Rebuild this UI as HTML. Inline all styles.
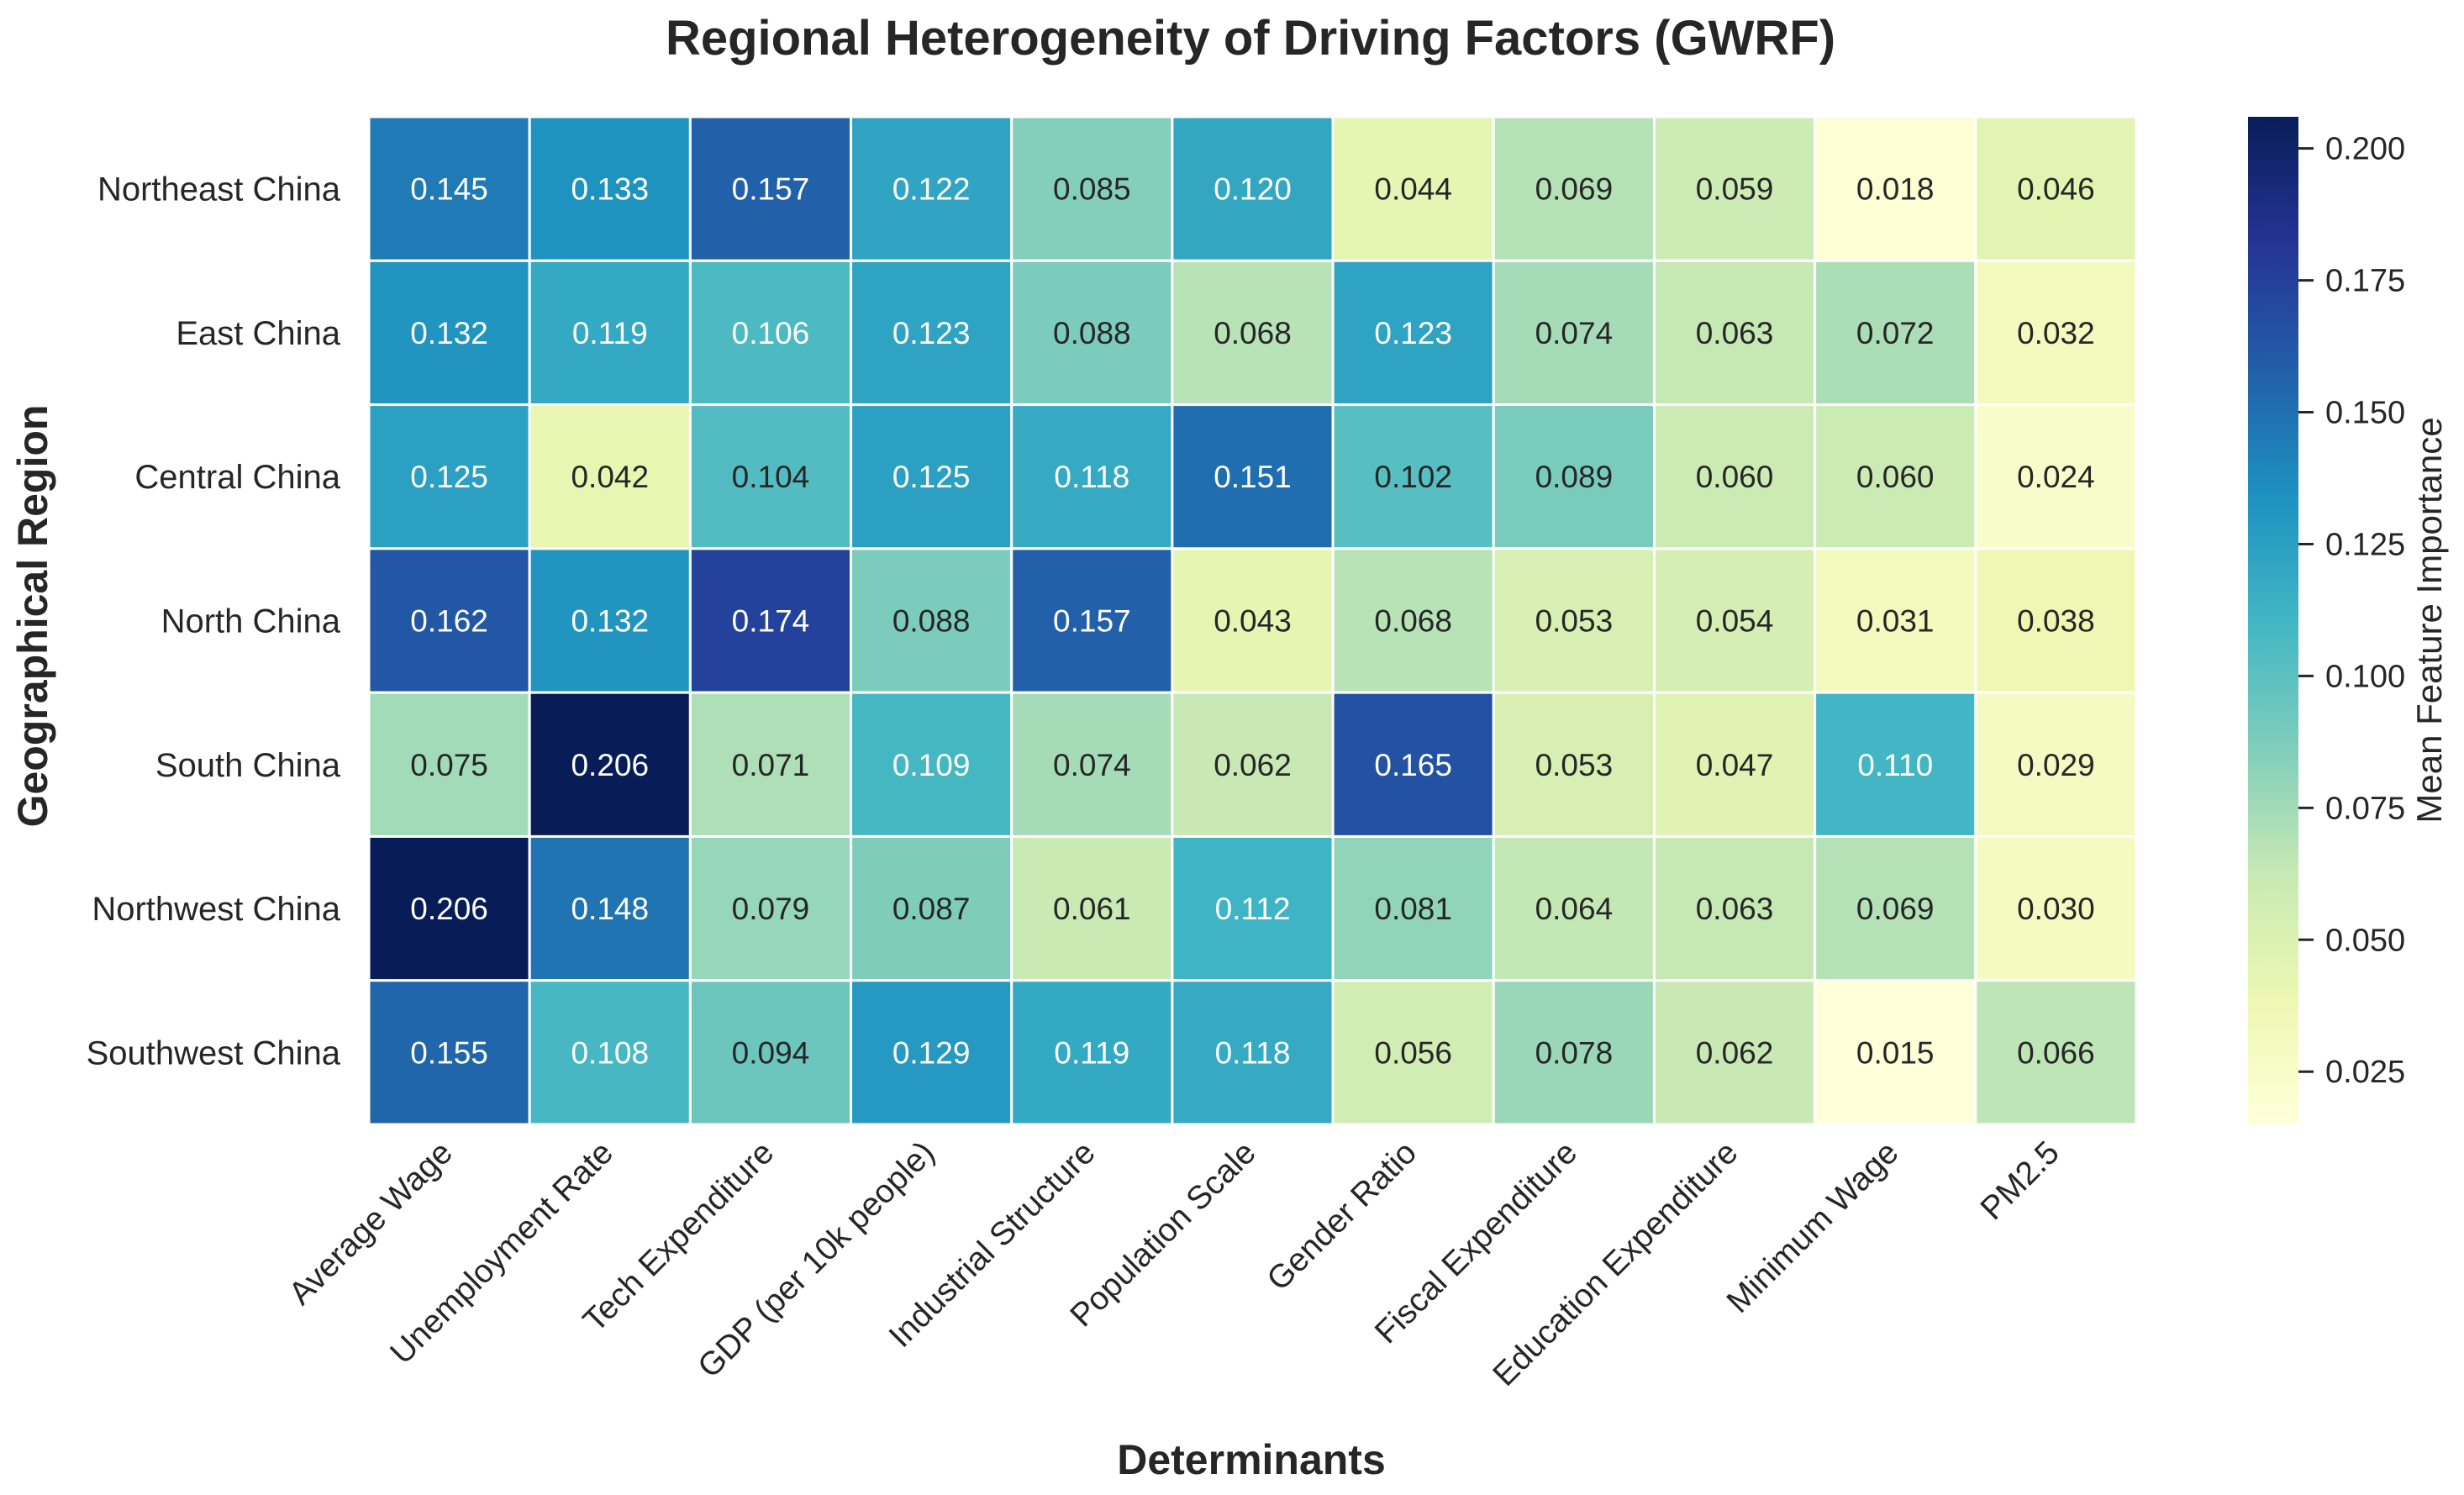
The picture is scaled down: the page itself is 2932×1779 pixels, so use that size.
<!DOCTYPE html>
<html><head><meta charset="utf-8"><style>
html,body{margin:0;padding:0;background:#fff;}
svg{display:block;font-family:"Liberation Sans",Arial,sans-serif;}
</style></head><body>
<svg id="chart" width="2932" height="1779" viewBox="0 0 2932 1779" xmlns="http://www.w3.org/2000/svg">
<text x="1488" y="65" text-anchor="middle" font-size="58" font-weight="bold" fill="#262626">Regional Heterogeneity of Driving Factors (GWRF)</text>
<g id="cells"></g>
<g id="ylabels"></g>
<g id="xlabels"></g>
<text x="1489" y="1754" text-anchor="middle" font-size="50" font-weight="bold" fill="#262626">Determinants</text>
<text transform="translate(56,733) rotate(-90)" text-anchor="middle" font-size="50" font-weight="bold" fill="#262626">Geographical Region</text>
<defs><linearGradient id="cbgrad" x1="0" y1="1" x2="0" y2="0"></linearGradient></defs>
<rect x="2675" y="139" width="60" height="1199" fill="url(#cbgrad)"/>
<g id="cbticks"></g>
<text transform="translate(2905,738) rotate(-90)" text-anchor="middle" font-size="42" fill="#262626">Mean Feature Importance</text>
</svg>
<script>
const regions = ["Northeast China","East China","Central China","North China","South China","Northwest China","Southwest China"];
const determinants = ["Average Wage","Unemployment Rate","Tech Expenditure","GDP (per 10k people)","Industrial Structure","Population Scale","Gender Ratio","Fiscal Expenditure","Education Expenditure","Minimum Wage","PM2.5"];
const rowNortheast = [0.145,0.133,0.157,0.122,0.085,0.120,0.044,0.069,0.059,0.018,0.046];
const rowEast      = [0.132,0.119,0.106,0.123,0.088,0.068,0.123,0.074,0.063,0.072,0.032];
const rowCentral   = [0.125,0.042,0.104,0.125,0.118,0.151,0.102,0.089,0.060,0.060,0.024];
const rowNorth     = [0.162,0.132,0.174,0.088,0.157,0.043,0.068,0.053,0.054,0.031,0.038];
const rowSouth     = [0.075,0.206,0.071,0.109,0.074,0.062,0.165,0.053,0.047,0.110,0.029];
const rowNorthwest = [0.206,0.148,0.079,0.087,0.061,0.112,0.081,0.064,0.063,0.069,0.030];
const rowSouthwest = [0.155,0.108,0.094,0.129,0.119,0.118,0.056,0.078,0.062,0.015,0.066];
const cbTicks = [0.025,0.050,0.075,0.100,0.125,0.150,0.175,0.200];

const values = [rowNortheast,rowEast,rowCentral,rowNorth,rowSouth,rowNorthwest,rowSouthwest];
const NS="http://www.w3.org/2000/svg";
const L=439,T=139,R=2542,B=1338;
const flat=values.flat();
const vmin=Math.min(...flat), vmax=Math.max(...flat);
const cw=(R-L)/determinants.length, ch=(B-T)/regions.length;
const xPos=i=>L+i*cw, yPos=j=>T+j*ch;
const stops=["#ffffd9","#edf8b1","#c7e9b4","#7fcdbb","#41b6c4","#1d91c0","#225ea8","#253494","#081d58"].map(h=>[1,3,5].map(k=>parseInt(h.substr(k,2),16)));
function cmap(v){let t=(v-vmin)/(vmax-vmin);t=Math.max(0,Math.min(1,t));const p=t*(stops.length-1);const i=Math.min(Math.floor(p),stops.length-2);const f=p-i;return stops[i].map((c,k)=>Math.round(c+(stops[i+1][k]-c)*f));}
function lum(c){const l=c.map(x=>{x/=255;return x<=0.03928?x/12.92:Math.pow((x+0.055)/1.055,2.4)});return 0.2126*l[0]+0.7152*l[1]+0.0722*l[2];}
const cells=document.getElementById('cells');
values.forEach((row,j)=>row.forEach((v,i)=>{
 const c=cmap(v);
 const r=document.createElementNS(NS,'rect');
 r.setAttribute('x',xPos(i));r.setAttribute('y',yPos(j));r.setAttribute('width',cw);r.setAttribute('height',ch);
 r.setAttribute('fill',`rgb(${c})`);r.setAttribute('stroke','#fff');r.setAttribute('stroke-width','3');
 
 
 cells.appendChild(r);
 const t=document.createElementNS(NS,'text');
 t.setAttribute('x',xPos(i)+cw/2);t.setAttribute('y',yPos(j)+ch/2+13);t.setAttribute('text-anchor','middle');
 t.setAttribute('font-size','37');t.setAttribute('fill',lum(c)<0.408?'#ffffff':'#262626');
 t.textContent=v.toFixed(3);
 
 
 cells.appendChild(t);
}));
const yl=document.getElementById('ylabels');
regions.forEach((n,j)=>{const t=document.createElementNS(NS,'text');
 t.setAttribute('x',405);t.setAttribute('y',yPos(j)+ch/2+14);t.setAttribute('text-anchor','end');t.setAttribute('font-size','40');t.setAttribute('fill','#262626');t.textContent=n;
 
 
 yl.appendChild(t);});
const xl=document.getElementById('xlabels');
determinants.forEach((n,i)=>{const t=document.createElementNS(NS,'text');
 const cx=xPos(i)+cw/2+6, cy=B+36;
 t.setAttribute('transform',`translate(${cx},${cy}) rotate(-45)`);t.setAttribute('text-anchor','end');t.setAttribute('font-size','39');t.setAttribute('fill','#262626');t.textContent=n;
 
 
 xl.appendChild(t);});
const g=document.getElementById('cbgrad');
for(let k=0;k<=40;k++){const v=vmin+(vmax-vmin)*k/40;const s=document.createElementNS(NS,'stop');s.setAttribute('offset',k/40);s.setAttribute('stop-color',`rgb(${cmap(v)})`);g.appendChild(s);}
const cbY=v=>B-(v-vmin)/(vmax-vmin)*(B-T);
const cbt=document.getElementById('cbticks');
cbTicks.forEach(v=>{const y=cbY(v);
 const l=document.createElementNS(NS,'line');l.setAttribute('x1',2735);l.setAttribute('x2',2753);l.setAttribute('y1',y);l.setAttribute('y2',y);l.setAttribute('stroke','#262626');l.setAttribute('stroke-width','3');
 
 
 cbt.appendChild(l);
 const t=document.createElementNS(NS,'text');t.setAttribute('x',2767);t.setAttribute('y',y+13);t.setAttribute('font-size','38');t.setAttribute('fill','#262626');t.textContent=v.toFixed(3);
 
 
 cbt.appendChild(t);});
</script>
</body></html>
